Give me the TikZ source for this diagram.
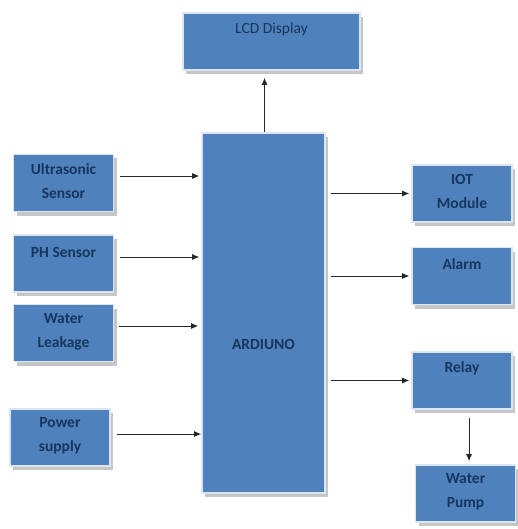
\documentclass[tikz,border=0pt]{standalone}
\usepackage{fontspec}
\setmainfont{Carlito}
\usetikzlibrary{shadows,arrows.meta}
\definecolor{boxblue}{HTML}{4F81BD}
\definecolor{boxedge}{HTML}{DCE6F2}
\definecolor{txtnavy}{HTML}{17365D}
\tikzset{
  blockbox/.style={rectangle, fill=boxblue, draw=boxedge, line width=1.6pt,
    inner sep=0pt, minimum width=100pt, minimum height=57pt,
    general shadow={fill=gray!45, shadow xshift=3pt, shadow yshift=-4pt}},
  lbl/.style={text=txtnavy, font=\fontsize{15.5}{24}\selectfont\bfseries, align=center, inner sep=0pt},
  arr/.style={-{Latex[length=7pt,width=6pt]}, line width=0.9pt, draw=black!85},
}
\begin{document}
\begin{tikzpicture}[x=1pt,y=-1pt]
\useasboundingbox[fill=white] (0,0) rectangle (518,529);
% boxes
\node[blockbox, minimum width=177pt] (lcd) at (271.5,41.5) {};
\node[blockbox, minimum width=123pt, minimum height=360pt] (ard) at (263.5,313) {};
\node[blockbox] (us) at (63.5,183) {};
\node[blockbox] (ph) at (63.5,263.5) {};
\node[blockbox] (wl) at (63.5,333) {};
\node[blockbox] (ps) at (60,437.5) {};
\node[blockbox] (iot) at (462,193.5) {};
\node[blockbox] (al) at (462,276) {};
\node[blockbox] (rl) at (462,380.5) {};
\node[blockbox] (wp) at (465.5,493.5) {};
% labels
\node[lbl, font=\fontsize{15.5}{24}\selectfont] (lcdt) at (271.5,29) {LCD Display};
\node[lbl] (ardt) at (263.5,344) {ARDIUNO};
\node[lbl] (ust) at (63.5,181) {Ultrasonic\\Sensor};
\node[lbl] (pht) at (63.5,252) {PH Sensor};
\node[lbl] (wlt) at (63.5,331.5) {Water\\Leakage};
\node[lbl] (pst) at (60,435.5) {Power\\supply};
\node[lbl] (iott) at (462,191.5) {IOT\\Module};
\node[lbl] (alt) at (462,264) {Alarm};
\node[lbl] (rlt) at (462,368) {Relay};
\node[lbl] (wpt) at (465.5,491.5) {Water\\Pump};
% connectors
\coordinate (c1) at ([xshift=6pt,yshift=7pt]us.east);
\coordinate (c2) at ([xshift=6pt,yshift=6.5pt]ph.east);
\coordinate (c3) at ([xshift=5pt,yshift=7pt]wl.east);
\coordinate (c4) at ([xshift=6pt,yshift=3.5pt]ps.east);
\draw[arr, shorten >=2pt] (c1) -- (c1 -| ard.west);
\draw[arr, shorten >=2pt] (c2) -- (c2 -| ard.west);
\draw[arr, shorten >=3pt] (c3) -- (c3 -| ard.west);
\draw[arr, shorten >=0pt] (c4) -- (c4 -| ard.west);
\coordinate (o1) at ([xshift=5pt]ard.east |- iot.west);
\coordinate (o2) at ([xshift=5pt]ard.east |- al.west);
\coordinate (o3) at ([xshift=5pt]ard.east |- rl.west);
\draw[arr, shorten >=2pt] (o1) -- (o1 -| iot.west);
\draw[arr, shorten >=2pt] (o2) -- (o2 -| al.west);
\draw[arr, shorten >=2pt] (o3) -- (o3 -| rl.west);
\coordinate (lu) at ([xshift=1pt]ard.north);
\draw[arr, shorten >=7pt] (lu) -- (lu |- lcd.south);
\coordinate (rd) at ([yshift=-8pt,xshift=7pt]rl.south);
\draw[arr, shorten >=3pt] (rd) -- (rd |- wp.north);
\end{tikzpicture}
\end{document}
